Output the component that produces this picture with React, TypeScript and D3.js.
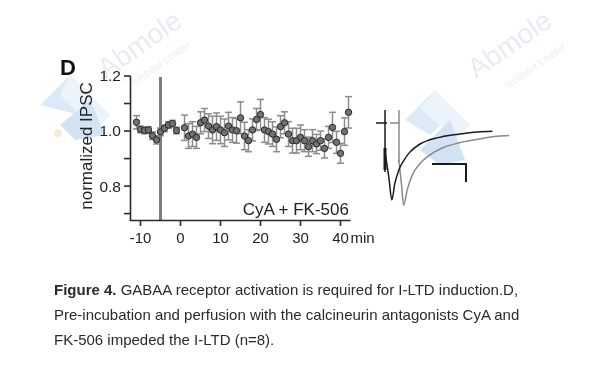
import React from "react";
import * as d3 from "d3";

const times = [-11, -10, -9, -8, -7, -6, -5, -4, -3, -2, -1,
  1, 2, 3, 4, 5, 6, 7, 8, 9, 10, 11, 12, 13, 14, 15, 16, 17, 18, 19, 20,
  21, 22, 23, 24, 25, 26, 27, 28, 29, 30, 31, 32, 33, 34, 35, 36, 37, 38, 39, 40, 41, 42];
const values = [1.032, 1.006, 1.002, 1.004, 0.983, 0.968, 0.997, 1.01, 1.022, 1.027, 1.002,
  1.012, 0.982, 0.989, 0.977, 1.03, 1.04, 1.018, 1.004, 1.016, 1.004, 0.994, 1.018, 1.004, 1.001, 1.048,
  0.982, 0.965, 1.004, 1.042, 1.06, 1.004, 0.998, 0.989, 0.97, 1.016, 1.03, 0.989, 0.965, 0.965, 0.977,
  0.965, 0.943, 0.965, 0.953, 0.965, 0.937, 0.977, 1.013, 0.959, 0.919, 0.998, 1.068];
const errors = [0.024, 0.012, 0.012, 0.012, 0.014, 0.015, 0.014, 0.012, 0.012, 0.012, 0.012,
  0.046, 0.045, 0.045, 0.04, 0.04, 0.042, 0.045, 0.05, 0.05, 0.05, 0.05, 0.05, 0.045, 0.045, 0.058,
  0.05, 0.04, 0.04, 0.04, 0.055, 0.045, 0.045, 0.045, 0.045, 0.04, 0.04, 0.045, 0.045, 0.045, 0.045,
  0.04, 0.035, 0.04, 0.035, 0.035, 0.035, 0.04, 0.055, 0.04, 0.036, 0.05, 0.057];

const xTicks = [-10, 0, 10, 20, 30, 40];
const yTicks = [0.7, 0.8, 0.9, 1.0, 1.1, 1.2];
const yTickLabels = ["", "0.8", "", "1.0", "", "1.2"];
const drugTime = -5;

// inset traces (inset units)
const blackTrace: [number, number][] = [
  [0, -0.35], [4, -0.7], [7, -1.0], [10, -0.78], [14, -0.6], [19, -0.47], [25, -0.36], [35, -0.25],
  [45, -0.19], [60, -0.14], [75, -0.11], [95, -0.08], [110, -0.07]];
const grayTrace: [number, number][] = [
  [14, -0.45], [17, -0.8], [19, -1.07], [23, -0.85], [28, -0.66], [35, -0.52], [45, -0.4], [58, -0.3],
  [75, -0.23], [95, -0.18], [115, -0.14], [127, -0.13]];

const captionLines = [
  { bold: "Figure 4.", text: " GABAA receptor activation is required for I-LTD induction.D," },
  { bold: "", text: "Pre-incubation and perfusion with the calcineurin antagonists CyA and" },
  { bold: "", text: "FK-506 impeded the I-LTD (n=8)." },
];

export default function App() {
  const x = d3.scaleLinear().domain([-12.5, 42.5]).range([130.5, 350.5]);
  const y = d3.scaleLinear().domain([0.675, 1.2]).range([220.5, 76]);
  const ix = d3.scaleLinear().domain([0, 130]).range([385, 512]);
  const iy = d3.scaleLinear().domain([-1, 0]).range([200, 126]);
  const line = d3.line<[number, number]>().x((d) => ix(d[0])).y((d) => iy(d[1])).curve(d3.curveMonotoneX);
  const axisColor = "#2b2b2b";
  const font = "'Liberation Sans', Arial, sans-serif";

  const wm = "#cdd9e5";
  return (
    <svg width={594} height={375} style={{ position: "absolute", left: 0, top: 0, background: "#fff" }}>
      <rect width={594} height={375} fill="#fff" />
      {/* watermarks */}
      <g opacity={0.5}>
        <polygon points="40,105 70,75 95,100 80,115" fill="#b9d3ee" />
        <polygon points="70,75 110,115 95,130 60,95" fill="#d6e6f6" />
        <polygon points="60,125 90,100 105,135 75,140" fill="#a9c7e8" />
        <circle cx={58} cy={133} r={4} fill="#f3d9a8" />
        <text x={145} y={52} transform="rotate(-35,145,52)" textAnchor="middle" fontFamily={font} fontSize={28} fill={wm}>Abmole</text>
        <text x={163} y={66} transform="rotate(-35,163,66)" textAnchor="middle" fontFamily={font} fontSize={10} fill={wm}>Inhibitor Leader</text>
        <polygon points="405,120 435,90 455,112 430,135" fill="#b9d3ee" />
        <polygon points="435,90 470,125 455,140 420,108" fill="#d6e6f6" />
        <polygon points="420,150 450,120 465,160 440,165" fill="#a9c7e8" />
        <text x={515} y={52} transform="rotate(-35,515,52)" textAnchor="middle" fontFamily={font} fontSize={28} fill={wm}>Abmole</text>
        <text x={538} y={68} transform="rotate(-35,538,68)" textAnchor="middle" fontFamily={font} fontSize={10} fill={wm}>Inhibitor Leader</text>
      </g>

      {/* panel label */}
      <text x={60} y={75} fontFamily={font} fontWeight="bold" fontSize={22} fill="#111">D</text>

      {/* y label */}
      <text transform="translate(92,146) rotate(-90)" textAnchor="middle" fontFamily={font} fontSize={17} fill="#222">normalized IPSC</text>

      {/* drug bar */}
      <line x1={x(drugTime)} x2={x(drugTime)} y1={77} y2={220.5} stroke="#7d7d7d" strokeWidth={3} />

      {/* axes */}
      <line x1={130.5} x2={130.5} y1={76} y2={221} stroke={axisColor} strokeWidth={1.6} />
      <line x1={129.7} x2={350.5} y1={220.5} y2={220.5} stroke={axisColor} strokeWidth={1.6} />
      {yTicks.map((t, i) => (
        <g key={"yt" + i}>
          <line x1={124} x2={130.5} y1={y(t)} y2={y(t)} stroke={axisColor} strokeWidth={1.6} />
          {yTickLabels[i] && (
            <text x={121} y={y(t)} dy="0.35em" textAnchor="end" fontFamily={font} fontSize={15.5} fill="#222">{yTickLabels[i]}</text>
          )}
        </g>
      ))}
      {xTicks.map((t) => (
        <g key={"xt" + t}>
          <line x1={x(t)} x2={x(t)} y1={220.5} y2={226} stroke={axisColor} strokeWidth={1.6} />
          <text x={x(t)} y={243} textAnchor="middle" fontFamily={font} fontSize={15} fill="#222">{t}</text>
        </g>
      ))}
      <text x={x(40) + 10} y={243} fontFamily={font} fontSize={15} fill="#222">min</text>

      <text x={349} y={215} textAnchor="end" fontFamily={font} fontSize={17} fill="#222">CyA + FK-506</text>

      {/* error bars */}
      {times.map((t, i) => {
        const cx = x(t);
        const lo = y(values[i] - errors[i]);
        const hi = y(values[i] + errors[i]);
        return (
          <g key={"e" + i} stroke="#8c8c8c" strokeWidth={1.5}>
            <line x1={cx} x2={cx} y1={lo} y2={hi} />
            <line x1={cx - 3.5} x2={cx + 3.5} y1={lo} y2={lo} />
            <line x1={cx - 3.5} x2={cx + 3.5} y1={hi} y2={hi} />
          </g>
        );
      })}
      {times.map((t, i) => (
        <circle key={"c" + i} cx={x(t)} cy={y(values[i])} r={3.2} fill="#717171" stroke="#262626" strokeWidth={1} />
      ))}

      {/* inset traces */}
      <path d={line(grayTrace) || ""} fill="none" stroke="#8a8a8a" strokeWidth={1.5} />
      <path d={line(blackTrace) || ""} fill="none" stroke="#1a1a1a" strokeWidth={1.5} />
      <line x1={385} x2={385} y1={110} y2={172} stroke="#1a1a1a" strokeWidth={1.5} />
      <line x1={385} x2={385} y1={148} y2={170} stroke="#1a1a1a" strokeWidth={3} />
      <line x1={376} x2={387} y1={123} y2={123} stroke="#1a1a1a" strokeWidth={1.5} />
      <line x1={399} x2={399} y1={110} y2={162} stroke="#8a8a8a" strokeWidth={1.5} />
      <line x1={390} x2={399} y1={123} y2={123} stroke="#8a8a8a" strokeWidth={1.5} />
      {/* scale bar */}
      <polyline points="432,164 466,164 466,182" fill="none" stroke="#1a1a1a" strokeWidth={2} />

      {/* caption */}
      {captionLines.map((l, i) => (
        <text key={"cap" + i} x={54} y={295 + i * 25} fontFamily={font} fontSize={15} fill="#2a2a2a">
          {l.bold && <tspan fontWeight="bold">{l.bold}</tspan>}
          <tspan>{l.text}</tspan>
        </text>
      ))}
    </svg>
  );
}
